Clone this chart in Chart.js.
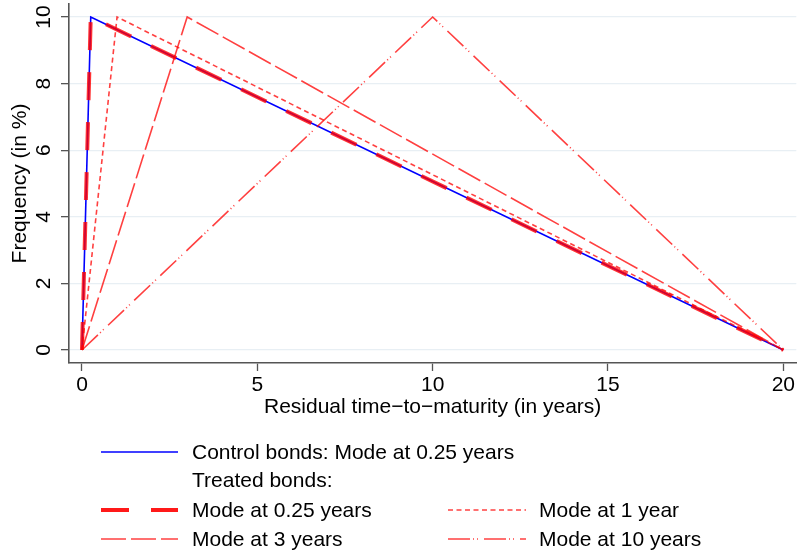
<!DOCTYPE html>
<html>
<head>
<meta charset="utf-8">
<script src="https://cdn.jsdelivr.net/npm/chart.js@4/dist/chart.umd.min.js"></script>
<style>
  html, body { margin: 0; padding: 0; background: #fff; }
  #wrap { position: relative; width: 797px; height: 556px; }
  #chart { position: absolute; left: 0; top: 0; }
  #legend { position: absolute; left: 0; top: 0; pointer-events: none; }
</style>
</head>
<body>
<div id="wrap">
  <canvas id="chart" width="797" height="420"></canvas>
  <svg id="legend" width="797" height="556" font-family="Liberation Sans, Arial, sans-serif" font-size="21" fill="#000">
    <line x1="101" y1="452" x2="178" y2="452" stroke="#0000ff" stroke-width="1.6"/>
    <text x="192" y="459">Control bonds: Mode at 0.25 years</text>
    <text x="192" y="487">Treated bonds:</text>
    <line x1="101" y1="510" x2="178" y2="510" stroke="rgba(255,0,0,0.9)" stroke-width="4" stroke-dasharray="28 22"/>
    <text x="192" y="517">Mode at 0.25 years</text>
    <line x1="101" y1="539" x2="178" y2="539" stroke="rgba(255,0,0,0.75)" stroke-width="1.6" stroke-dasharray="25 5"/>
    <text x="192" y="546">Mode at 3 years</text>
    <line x1="448" y1="510" x2="526" y2="510" stroke="rgba(255,0,0,0.75)" stroke-width="1.6" stroke-dasharray="5 3.5"/>
    <text x="539" y="517">Mode at 1 year</text>
    <line x1="448" y1="539" x2="526" y2="539" stroke="rgba(255,0,0,0.75)" stroke-width="1.6" stroke-dasharray="22 3 1 3 1 6"/>
    <text x="539" y="546">Mode at 10 years</text>
  </svg>
</div>
<script>
// ===== Data =====
const xTicks = [0, 5, 10, 15, 20];
const yTicks = [0, 2, 4, 6, 8, 10];

const controlX = [0, 0.25, 20];
const controlY = [0, 10, 0];
const treated025X = [0, 0.25, 20];
const treated025Y = [0, 10, 0];
const treated1X = [0, 1, 20];
const treated1Y = [0, 10, 0];
const treated3X = [0, 3, 20];
const treated3Y = [0, 10, 0];
const treated10X = [0, 10, 20];
const treated10Y = [0, 10, 0];

const FONT = 'Liberation Sans, Arial, sans-serif';
const AXIS = '#555555';

function pts(xs, ys) {
    return xs.map((x, i) => ({ x: x, y: ys[i] }));
}

// y tick labels, rotated like the original
const rotatedYLabels = {
    id: 'rotatedYLabels',
    afterDraw(chart) {
        const c = chart.ctx;
        const y = chart.scales.y;
        c.save();
        c.fillStyle = '#000';
        c.font = '21px ' + FONT;
        c.textAlign = 'center';
        c.textBaseline = 'middle';
        yTicks.forEach(v => {
            c.save();
            c.translate(44.5, y.getPixelForValue(v));
            c.rotate(-Math.PI / 2);
            c.fillText(String(v), 0, 0);
            c.restore();
        });
        c.restore();
    }
};

const ctx = document.getElementById('chart').getContext('2d');
new Chart(ctx, {
    type: 'scatter',
    data: {
        datasets: [
            {
                label: 'Control bonds: Mode at 0.25 years',
                data: pts(controlX, controlY),
                borderColor: '#0000ff',
                borderWidth: 1.6,
                order: 5
            },
            {
                label: 'Mode at 0.25 years',
                data: pts(treated025X, treated025Y),
                borderColor: 'rgba(255,0,0,0.8)',
                borderWidth: 4,
                borderDash: [28, 22],
                order: 1
            },
            {
                label: 'Mode at 1 year',
                data: pts(treated1X, treated1Y),
                borderColor: 'rgba(255,0,0,0.75)',
                borderWidth: 1.6,
                borderDash: [5, 3.5],
                order: 2
            },
            {
                label: 'Mode at 3 years',
                data: pts(treated3X, treated3Y),
                borderColor: 'rgba(255,0,0,0.75)',
                borderWidth: 1.6,
                borderDash: [25, 5],
                order: 3
            },
            {
                label: 'Mode at 10 years',
                data: pts(treated10X, treated10Y),
                borderColor: 'rgba(255,0,0,0.75)',
                borderWidth: 1.6,
                borderDash: [22, 3, 1, 3, 1, 6],
                order: 4
            }
        ]
    },
    options: {
        responsive: false,
        animation: false,
        showLine: true,
        elements: { point: { radius: 0, hoverRadius: 0 }, line: { tension: 0 } },
        layout: { padding: { left: 0, right: 0, top: 4, bottom: 0 } },
        plugins: { legend: { display: false }, tooltip: { enabled: false } },
        scales: {
            x: {
                type: 'linear',
                min: -0.37,
                max: 20.37,
                afterBuildTicks: s => { s.ticks = xTicks.map(v => ({ value: v })); },
                afterFit: s => { s.height = 57; },
                ticks: { color: '#000', font: { family: FONT, size: 21 }, padding: 2, maxRotation: 0 },
                grid: { drawOnChartArea: false, tickLength: 8, tickColor: AXIS, tickWidth: 1.3 },
                border: { display: true, color: AXIS, width: 1.6 },
                title: { display: true, text: 'Residual time\u2212to\u2212maturity (in years)', color: '#000',
                         font: { family: FONT, size: 21 }, padding: { top: 0, bottom: 0 } }
            },
            y: {
                type: 'linear',
                min: -0.39,
                max: 10.39,
                afterBuildTicks: s => { s.ticks = yTicks.map(v => ({ value: v })); },
                afterFit: s => { s.width = 69; },
                ticks: { display: false },
                grid: { color: '#e8eff4', lineWidth: 1.3, tickLength: 8, tickColor: AXIS, tickWidth: 1.3 },
                border: { display: true, color: AXIS, width: 1.6 },
                title: { display: true, text: 'Frequency (in %)', color: '#000',
                         font: { family: FONT, size: 21 }, padding: { top: 8, bottom: 0 } }
            }
        }
    },
    plugins: [rotatedYLabels]
});
</script>
</body>
</html>
